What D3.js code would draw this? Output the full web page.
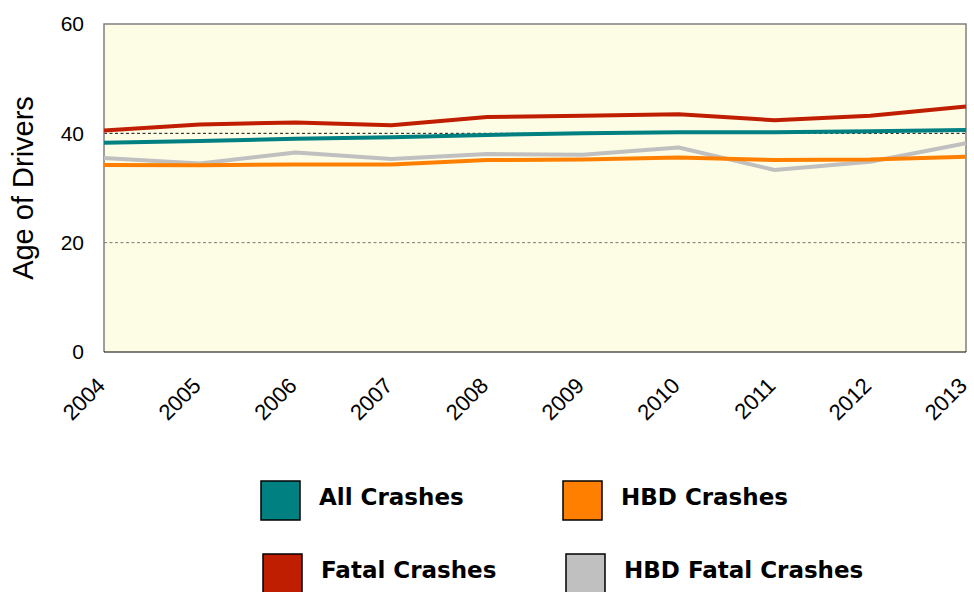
<!DOCTYPE html>
<html>
<head>
<meta charset="utf-8">
<script src="https://cdn.jsdelivr.net/npm/d3@7"></script>
<style>
  body { margin: 0; background: #fff; }
  svg { display: block; font-family: "Liberation Sans", Arial, Helvetica, sans-serif; }
</style>
</head>
<body>
<div class="chart"></div>
<script>
(function () {
    'use strict';

    const years = [2004, 2005, 2006, 2007, 2008, 2009, 2010, 2011, 2012, 2013];
    const allCrashes = [38.3, 38.6, 39.0, 39.3, 39.7, 40.0, 40.2, 40.2, 40.4, 40.6];
    const hbdCrashes = [34.2, 34.15, 34.3, 34.3, 35.1, 35.2, 35.6, 35.1, 35.2, 35.7];
    const fatalCrashes = [40.5, 41.6, 42.0, 41.5, 43.0, 43.2, 43.5, 42.4, 43.2, 44.9];
    const hbdFatalCrashes = [35.5, 34.5, 36.5, 35.3, 36.2, 36.1, 37.4, 33.3, 34.8, 38.2];
    const yTicks = [0, 20, 40, 60];

    const seriesNames = ['All Crashes', 'HBD Crashes', 'Fatal Crashes', 'HBD Fatal Crashes'];
    const seriesColors = ['#008080', '#ff8000', '#c01e00', '#c0c0c0'];
    const seriesValues = [allCrashes, hbdCrashes, fatalCrashes, hbdFatalCrashes];

    const width = 974;
    const height = 592;
    const margin = { top: 24, left: 104, right: 8, bottom: 240 };

    const svg = d3.select('.chart').append('svg')
        .attr('width', width).attr('height', height);

    const x = d3.scalePoint().domain(years).range([margin.left, width - margin.right]);
    const y = d3.scaleLinear().domain([0, 60]).range([height - margin.bottom, margin.top]);

    // plot background
    svg.append('rect')
        .attr('x', margin.left).attr('y', margin.top)
        .attr('width', width - margin.right - margin.left)
        .attr('height', y(0) - margin.top)
        .style('fill', '#fdfde6');

    // dashed gridlines
    svg.selectAll('.grid').data([20, 40]).enter().append('line')
        .attr('class', 'grid')
        .attr('x1', margin.left).attr('x2', width - margin.right)
        .attr('y1', function (d) { return y(d); })
        .attr('y2', function (d) { return y(d); })
        .style('stroke', function (d) { return d === 40 ? '#111' : '#777'; })
        .style('stroke-width', 1)
        .style('stroke-dasharray', '3,2.5');

    // frame
    svg.append('path')
        .attr('d', 'M' + margin.left + ',' + y(0) + 'V' + margin.top + 'H' + (width - margin.right) + 'V' + y(0))
        .style('fill', 'none').style('stroke', '#808080').style('stroke-width', 1.5);
    svg.append('line')
        .attr('x1', margin.left).attr('x2', width - margin.right)
        .attr('y1', y(0)).attr('y2', y(0))
        .style('stroke', '#000').style('stroke-width', 1.2);

    // lines
    const line = d3.line()
        .x(function (d, i) { return x(years[i]); })
        .y(function (d) { return y(d); });

    const drawOrder = [3, 1, 0, 2];
    drawOrder.forEach(function (k) {
        svg.append('path')
            .datum(seriesValues[k])
            .attr('d', line)
            .style('fill', 'none')
            .style('stroke', seriesColors[k])
            .style('stroke-width', 4)
            .style('stroke-linejoin', 'round');
    });

    // y axis
    const yAxis = svg.append('g')
        .attr('transform', 'translate(' + margin.left + ',0)')
        .call(d3.axisLeft(y).tickValues(yTicks).tickSize(0).tickPadding(20));
    yAxis.select('.domain').remove();
    yAxis.selectAll('text')
        .style('font-size', '21px')
        .style('font-family', '"Liberation Sans", Arial, sans-serif')
        .style('fill', '#000');

    svg.append('text')
        .attr('transform', 'translate(33,188) rotate(-90)')
        .attr('text-anchor', 'middle')
        .style('font-size', '29px')
        .text('Age of Drivers');

    // x axis
    const xAxis = svg.append('g')
        .attr('transform', 'translate(0,' + y(0) + ')')
        .call(d3.axisBottom(x).tickSize(0).tickFormat(d3.format('d')));
    xAxis.select('.domain').remove();
    xAxis.selectAll('text')
        .attr('text-anchor', 'end')
        .attr('transform', 'translate(2,35) rotate(-45)')
        .attr('dy', 0)
        .attr('y', 0)
        .style('font-size', '22px')
        .style('font-family', '"Liberation Sans", Arial, sans-serif')
        .style('fill', '#000');

    // legend
    const legendPos = [
        { x: 261, y: 481 },
        { x: 563, y: 481 },
        { x: 263, y: 554 },
        { x: 566, y: 554 }
    ];

    const legend = svg.append('g').attr('class', 'legend');
    const legendGroups = legend.selectAll('g').data(seriesNames)
        .enter().append('g')
        .attr('transform', function (d, i) {
            return 'translate(' + legendPos[i].x + ',' + legendPos[i].y + ')';
        });

    legendGroups.append('rect')
        .attr('width', 39).attr('height', 39)
        .style('fill', function (d, i) { return seriesColors[i]; })
        .style('stroke', '#000')
        .style('stroke-width', 1.5);

    legendGroups.append('text')
        .attr('x', 58).attr('y', 24)
        .text(function (d) { return d; })
        .style('font-family', '"DejaVu Sans", sans-serif')
        .style('font-size', '23px')
        .style('font-weight', 'bold');
})();
</script>
</body>
</html>
